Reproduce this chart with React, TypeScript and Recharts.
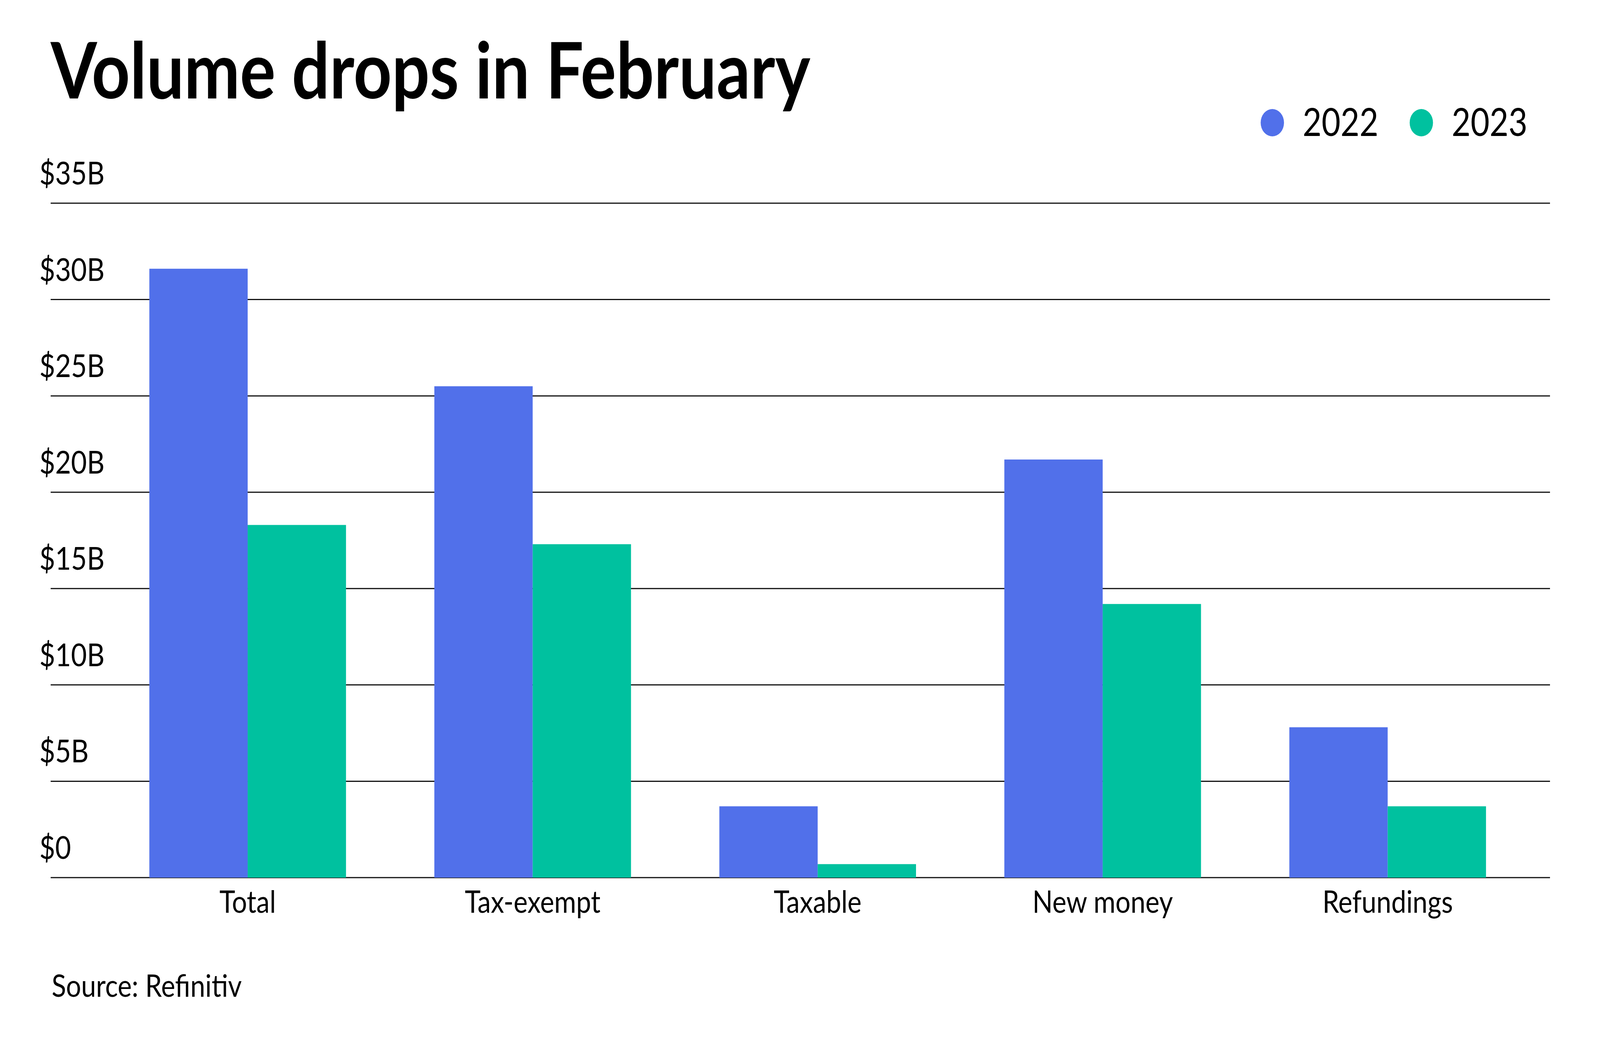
import { BarChart, Bar, XAxis, YAxis, CartesianGrid } from "recharts";

const categories = ["Total", "Tax-exempt", "Taxable", "New money", "Refundings"];
const values2022 = [31.6, 25.5, 3.7, 21.7, 7.8];
const values2023 = [18.3, 17.3, 0.7, 14.2, 3.7];
const yTicks = [0, 5, 10, 15, 20, 25, 30, 35];
const seriesNames = ["2022", "2023"];

const BLUE = "#5170ea";
const GREEN = "#00c19f";
const FONT = "Lato, 'Open Sans', sans-serif";

const W = 4800;
const H = 2700;
const PLOT_TOP = 520;
const PLOT_BOTTOM = 2246;
const PLOT_LEFT = 152;
const PLOT_RIGHT = 4650;
const X_AXIS_H = 100;
const Y_AXIS_W = 40;

// the browser window may be narrower than 4800, so squeeze the whole frame to fit it
const VIEW_W = Math.min(W, (typeof window !== "undefined" && window.innerWidth) || W);
const SX = VIEW_W / W;

const data = categories.map((name, i) => ({
  name,
  y2022: values2022[i],
  y2023: values2023[i],
}));

function formatY(v: number): string {
  return v === 0 ? "$0" : `$${v}B`;
}

// y labels sit above their gridline, flush left
function YTick(props: any) {
  const { y, payload } = props;
  return (
    <text x={118} y={y - 48} fill="#000" fontSize={82} fontFamily={FONT} textAnchor="start">
      {formatY(payload.value)}
    </text>
  );
}

function XTick(props: any) {
  const { x, payload } = props;
  return (
    <text x={x} y={PLOT_BOTTOM + 90} fill="#000" fontSize={80} fontFamily={FONT} textAnchor="middle">
      {payload.value}
    </text>
  );
}

export default function App() {
  return (
    <div
      style={{
        position: "absolute",
        left: 0,
        top: 0,
        width: VIEW_W,
        height: H,
        overflow: "hidden",
        background: "#fff",
      }}
    >
      <div
        style={{
          position: "relative",
          width: W,
          height: H,
          transform: `scale(${SX}, 1)`,
          transformOrigin: "0 0",
        }}
      >
        <BarChart
          width={W}
          height={H}
          data={data}
          margin={{
            top: PLOT_TOP,
            bottom: H - PLOT_BOTTOM - X_AXIS_H,
            left: PLOT_LEFT - Y_AXIS_W,
            right: W - PLOT_RIGHT,
          }}
          barCategoryGap="15.5%"
          barGap={0}
        >
          <CartesianGrid horizontal vertical={false} stroke="#111" strokeWidth={3} />
          <XAxis
            dataKey="name"
            axisLine={false}
            tickLine={false}
            tick={<XTick />}
            padding={{ left: 163.5, right: 59.5 }}
            height={X_AXIS_H}
            interval={0}
          />
          <YAxis
            domain={[0, 35]}
            ticks={yTicks}
            axisLine={false}
            tickLine={false}
            tick={<YTick />}
            width={Y_AXIS_W}
            interval={0}
          />
          <Bar dataKey="y2022" name={seriesNames[0]} fill={BLUE} isAnimationActive={false} />
          <Bar dataKey="y2023" name={seriesNames[1]} fill={GREEN} isAnimationActive={false} />
        </BarChart>
        <svg
          width={W}
          height={H}
          style={{ position: "absolute", left: 0, top: 0, pointerEvents: "none" }}
        >
          <text x={152} y={252} fontSize={200} fontWeight={700} fontFamily={FONT} fill="#000">
            Volume drops in February
          </text>
          <circle cx={3817} cy={314} r={35} fill={BLUE} />
          <text x={3908} y={348} fontSize={98} fontFamily={FONT} fill="#000">
            {seriesNames[0]}
          </text>
          <circle cx={4264} cy={314} r={35} fill={GREEN} />
          <text x={4355} y={348} fontSize={98} fontFamily={FONT} fill="#000">
            {seriesNames[1]}
          </text>
          <text x={155} y={2551} fontSize={80} fontFamily={FONT} fill="#000">
            Source: Refinitiv
          </text>
        </svg>
      </div>
    </div>
  );
}
